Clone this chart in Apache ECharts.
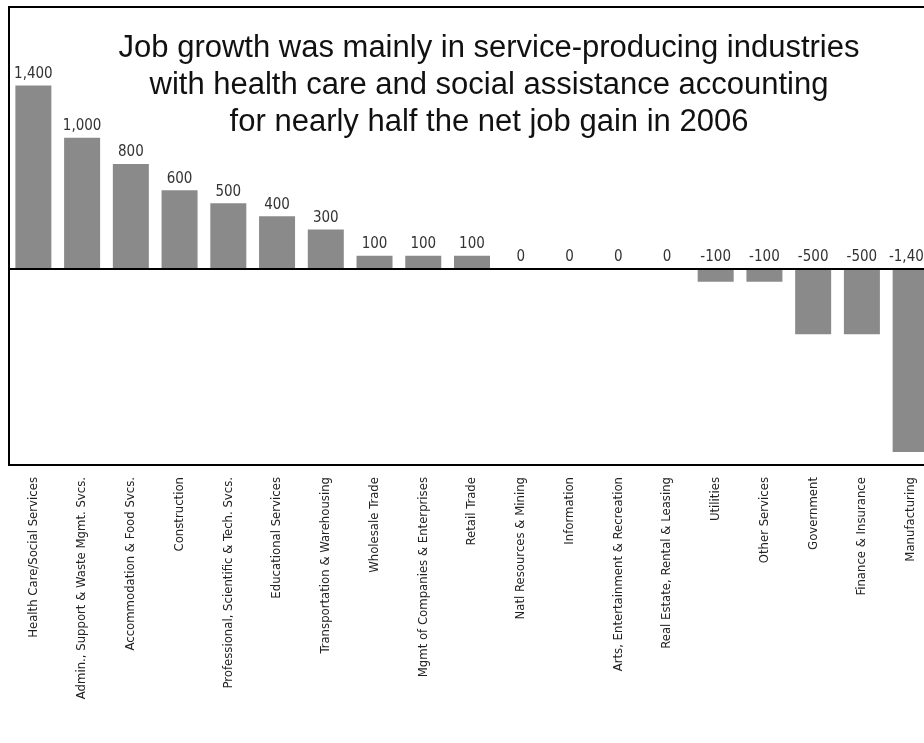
<!DOCTYPE html>
<html>
<head>
<meta charset="utf-8">
<script src="https://cdn.jsdelivr.net/npm/echarts@6/dist/echarts.min.js"></script>
<style>
html,body{margin:0;padding:0;background:#fff;overflow:hidden;}
#main{width:924px;height:743px;}
</style>
</head>
<body>
<div id="main"></div>
<script>
var categories = [
  "Health Care/Social Services",
  "Admin., Support & Waste Mgmt. Svcs.",
  "Accommodation & Food Svcs.",
  "Construction",
  "Professional, Scientific & Tech. Svcs.",
  "Educational Services",
  "Transportation & Warehousing",
  "Wholesale Trade",
  "Mgmt of Companies & Enterprises",
  "Retail Trade",
  "Natl Resources & Mining",
  "Information",
  "Arts, Entertainment & Recreation",
  "Real Estate, Rental & Leasing",
  "Utilities",
  "Other Services",
  "Government",
  "Finance & Insurance",
  "Manufacturing"
];
var jobChange = [1400, 1000, 800, 600, 500, 400, 300, 100, 100, 100, 0, 0, 0, 0, -100, -100, -500, -500, -1400];
var titleLines = [
  "Job growth was mainly in service-producing industries",
  "with health care and social assistance accounting",
  "for nearly half the net job gain in 2006"
];

var narrow = "'Liberation Sans Narrow', 'DejaVu Sans Condensed', 'Arial Narrow', sans-serif";

function fmt(v) {
  var s = String(Math.abs(v)).replace(/\B(?=(\d{3})+(?!\d))/g, ",");
  return (v < 0 ? "-" : "") + s;
}

var chart = echarts.init(document.getElementById('main'));
chart.setOption({
  animation: false,
  backgroundColor: '#ffffff',
  grid: {
    left: 9, width: 926, top: 7, bottom: 278,
    show: true, borderColor: '#000', borderWidth: 2, backgroundColor: 'transparent',
    containLabel: false,
    outerBoundsMode: 'none'
  },
  graphic: [{
    type: 'text',
    x: 489, y: 30,
    style: {
      text: titleLines.join('\n'),
      fill: '#111',
      font: "31px 'Liberation Sans', Arial, sans-serif",
      textAlign: 'center',
      textVerticalAlign: 'top',
      lineHeight: 37
    },
    z: 10
  }],
  xAxis: {
    type: 'category',
    data: categories,
    axisLine: { show: false, onZero: false },
    axisTick: { show: false },
    axisLabel: {
      interval: 0, rotate: 90, margin: 12,
      color: '#222', fontSize: 13, fontFamily: narrow
    }
  },
  yAxis: {
    type: 'value',
    min: -1500, max: 2000,
    axisLine: { show: false },
    axisTick: { show: false },
    axisLabel: { show: false },
    splitLine: { show: false }
  },
  series: [{
    type: 'bar',
    data: jobChange,
    barWidth: 36,
    itemStyle: { color: '#8a8a8a' },
    label: {
      show: true, position: 'top', distance: 4,
      color: '#333', fontSize: 15, fontFamily: narrow,
      formatter: function (p) { return fmt(p.value); }
    },
    markLine: {
      silent: true,
      symbol: ['none', 'none'],
      label: { show: false },
      lineStyle: { color: '#000', width: 2, type: 'solid' },
      data: [{ yAxis: 0 }]
    }
  }]
});
</script>
</body>
</html>
